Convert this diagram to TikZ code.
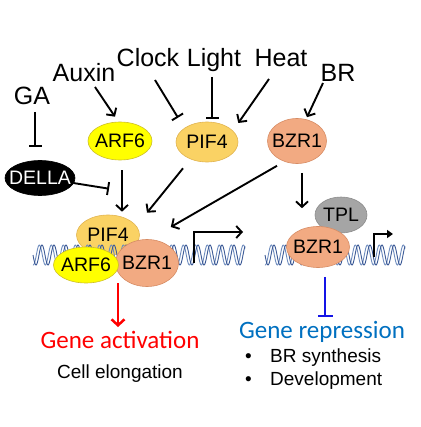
\documentclass[tikz,border=0pt]{standalone}
\usepackage{fontspec}
\setmainfont{Liberation Sans}
\newfontfamily\calibri{Carlito}
\usetikzlibrary{shapes.geometric,arrows.meta,calc}
\newcommand\zw[1]{\makebox[0pt]{#1}}
\definecolor{arfC}{RGB}{255,255,0}
\definecolor{arfD}{RGB}{205,190,40}
\definecolor{pifC}{RGB}{250,210,100}
\definecolor{pifD}{RGB}{225,180,80}
\definecolor{bzrC}{RGB}{242,170,130}
\definecolor{bzrD}{RGB}{215,140,100}
\definecolor{tplC}{RGB}{165,165,165}
\definecolor{tplD}{RGB}{140,140,140}
\definecolor{dnaC}{RGB}{60,90,150}
\definecolor{dnaL}{RGB}{110,140,190}
\definecolor{repC}{RGB}{0,112,192}
\definecolor{blueA}{RGB}{20,20,230}
\begin{document}
\begin{tikzpicture}[x=1pt,y=-1pt,
  lab/.style={font=\fontsize{25}{30}\selectfont, inner sep=0pt, anchor=base},
  prot/.style={ellipse, inner sep=0pt, font=\fontsize{19.5}{23}\selectfont, line width=0.6pt},
  arfS/.style={prot, fill=arfC, draw=arfD},
  pifS/.style={prot, fill=pifC, draw=pifD},
  bzrS/.style={prot, fill=bzrC, draw=bzrD},
  act/.style={-{Straight Barb[length=5.5pt,width=12pt,line width=1.9pt]}, line width=1.9pt},
  inh/.style={-{Bar[width=13pt,line width=1.9pt]}, line width=1.9pt},
  dna/.style={draw=dnaC, line width=0.9pt},
  dnab/.style={draw=dnaL, line width=0.9pt},
  small/.style={font=\fontsize{19}{23}\selectfont, inner sep=0pt},
  gene/.style={font=\calibri\fontsize{25}{30}\selectfont, inner sep=0pt, anchor=base}]
\useasboundingbox (0,0) rectangle (420,427);

% signal labels
\node[lab] (ga) at (32,105) {GA};
\node[lab] (auxin) at (84,82) {Auxin};
\node[lab] (clock) at (148,67) {Clock};
\node[lab] (light) at (214,67) {Light};
\node[lab] (heat) at (281,67) {Heat};
\node[lab] (br) at (338,82) {BR};

% top proteins
\node[arfS, minimum width=64pt, minimum height=38pt] (arf6) at (120,141) {\zw{ARF6}};
\node[pifS, minimum width=62pt, minimum height=40pt] (pif4) at (207,142) {\zw{PIF4}};
\node[bzrS, minimum width=59pt, minimum height=45pt] (bzr1) at (297,141) {\zw{BZR1}};
\node[prot, fill=black, draw=black, text=white, minimum width=70pt, minimum height=35pt] (della) at (40,178) {\zw{DELLA}};

% left complex
\node[pifS, minimum width=63pt, minimum height=40pt] (pif4b) at (108,235) {\zw{PIF4}};
\draw[dnab] plot[domain=33:245,samples=360,smooth] (\x,{255+10*sin((\x-33)*30+80)});
\draw[dna] plot[domain=33:245,samples=360,smooth] (\x,{255+10*sin((\x-33)*30)});
\draw[dnab] plot[domain=265:405,samples=240,smooth] (\x,{255+10*sin((\x-265)*30+80)});
\draw[dna] plot[domain=265:405,samples=240,smooth] (\x,{255+10*sin((\x-265)*30)});
\node[bzrS, minimum width=63pt, minimum height=47pt] (bzr1b) at (147,263) {\zw{BZR1}};
\node[arfS, minimum width=65pt, minimum height=36pt] (arf6b) at (86,265) {\zw{ARF6}};

% right complex
\node[prot, fill=tplC, draw=tplD, minimum width=52pt, minimum height=36pt] (tpl) at (341,215) {\zw{TPL}};
\node[bzrS, minimum width=63pt, minimum height=41pt] (bzr1r) at (318,247) {\zw{BZR1}};

% transcription start arrows
\coordinate (tssA) at (194,263);
\coordinate (tssAend) at (243,232);
\draw[line width=1.9pt, -{Straight Barb[length=5.5pt,width=12pt,line width=1.9pt]}] (tssA) |- (tssAend);
\coordinate (tssB) at (374,257);
\coordinate (tssBend) at (393,234);
\draw[line width=1.9pt, -{Triangle[length=6pt,width=8pt]}] (tssB) |- (tssBend);

% connectors
\draw[inh] ([shift={(3,7)}]ga.base) -- ([shift={(-5,-13)}]della.north);
\draw[act] ([shift={(11,5)}]auxin.base) -- ([shift={(-5,-5)}]arf6.north);
\draw[inh] ([shift={(7,13)}]clock.base) -- ([shift={(-29,-4)}]pif4.north);
\draw[inh] ([shift={(-2,10)}]light.base) -- ([shift={(5,-3)}]pif4.north);
\draw[act] ([shift={(-12,12)}]heat.base) -- ([shift={(0,-19)}]pif4.east);
\draw[act] ([shift={(-15,1)}]br.base) -- ([shift={(10,-1)}]bzr1.north);
\draw[inh] ([shift={(-2,5)}]della.east) -- ([shift={(1,-26)}]pif4b.north);
\draw[act] ([shift={(2,10)}]arf6.south) -- ([shift={(14,-3)}]pif4b.north);
\draw[act] ([shift={(-24,6)}]pif4.south) -- ([shift={(39,-2)}]pif4b.north);
\draw[act] ([shift={(-20,2)}]bzr1.south) -- ([shift={(31,-8)}]pif4b.east);
\draw[act] ([shift={(5,9)}]bzr1.south) -- ([shift={(-16,-18)}]bzr1r.north);

% outcomes
\node[gene, text=red] (gact) at (120,348) {Gene activation};
\node[small, anchor=base] (cell) at (120,378) {Cell elongation};
\node[gene, text=repC] (grep) at (322,338) {Gene repression};
\node[small, anchor=base west] (brs) at (245,362) {\makebox[25pt][l]{•}BR synthesis};
\node[small, anchor=base west] (dev) at (245,385) {\makebox[25pt][l]{•}Development};

\draw[red, line width=2.5pt, -{Straight Barb[length=6pt,width=13pt,line width=2.5pt]}] ([shift={(32,0)}]arf6b.south) -- ([shift={(-2,-21)}]gact.base);
\draw[blueA, line width=2.5pt, -{Bar[width=15pt,line width=2.5pt]}] ([shift={(7,9)}]bzr1r.south) -- ([shift={(3,-21)}]grep.base);
\end{tikzpicture}
\end{document}
